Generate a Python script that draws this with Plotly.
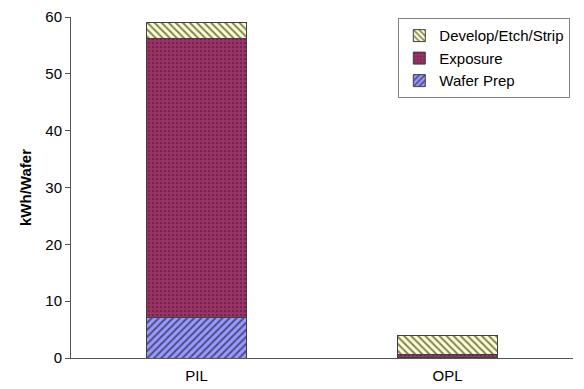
import plotly.graph_objects as go

categories = ["PIL", "OPL"]
wafer_prep = [7.1, 0.1]
exposure = [49.1, 0.6]
develop_etch_strip = [2.8, 3.2]

series = [
    ("Wafer Prep", wafer_prep, "#9999FF", "/"),
    ("Exposure", exposure, "#993366", "."),
    ("Develop/Etch/Strip", develop_etch_strip, "#FFFFCC", "\\"),
]

fig = go.Figure()
for name, vals, color, shape in series:
    dotted = shape == "."
    fig.add_trace(go.Bar(
        name=name,
        x=categories,
        y=vals,
        marker=dict(
            color=color,
            line=dict(color="#404040", width=1),
            pattern=dict(shape=shape, fgcolor="#000000", bgcolor=color,
                         size=4 if dotted else 5,
                         solidity=0.15 if dotted else 0.4,
                         fillmode="overlay"),
        ),
    ))

fig.update_layout(
    barmode="stack",
    bargap=0.6,
    width=584,
    height=389,
    margin=dict(l=71, r=11, t=17, b=31),
    plot_bgcolor="white",
    paper_bgcolor="white",
    font=dict(family="Liberation Sans, Arial, sans-serif", size=15, color="#000000"),
    showlegend=True,
    legend=dict(
        traceorder="reversed",
        x=0.652, y=0.996, xanchor="left", yanchor="top",
        bordercolor="#808080", borderwidth=1,
        bgcolor="white",
        font=dict(size=15),
        itemwidth=30,
        tracegroupgap=0,
    ),
    xaxis=dict(
        automargin=False,
        showline=True, linecolor="#555555", linewidth=1,
        ticks="outside", ticklen=4, tickcolor="rgba(0,0,0,0)",
        showgrid=False,
        tickfont=dict(size=15),
    ),
    yaxis=dict(
        automargin=False,
        range=[0, 60], dtick=10,
        showline=True, linecolor="#555555", linewidth=1,
        ticks="outside", ticklen=5, tickcolor="#555555",
        showgrid=False, zeroline=False,
        title=dict(text="<b>kWh/Wafer</b>", font=dict(size=15), standoff=10),
        tickfont=dict(size=15),
    ),
)

fig.write_html("out.html")
